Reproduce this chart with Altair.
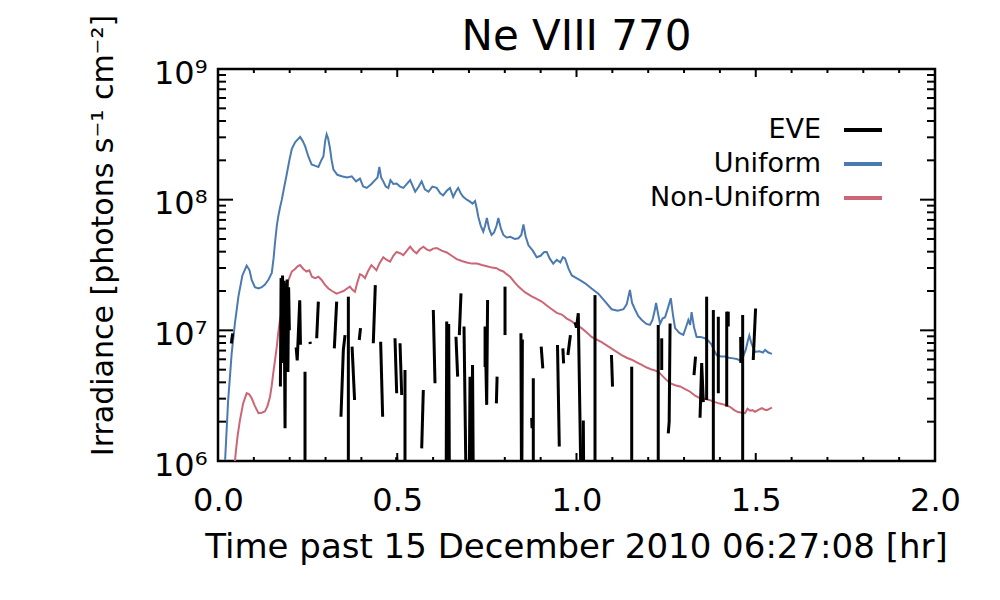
import altair as alt
import pandas as pd

FONT = "DejaVu Sans"
W, H = 717, 392

series_names = ["EVE", "Uniform", "Non-Uniform"]
series_colors = ["#000000", "#4a7ab0", "#cc6677"]

chart_title = "Ne VIII 770"
x_title = "Time past 15 December 2010 06:27:08 [hr]"
y_title = "Irradiance [photons s\u207b\u00b9 cm\u207b\u00b2]"

xt_major = [0.0, 0.5, 1.0, 1.5, 2.0]
xt_minor = [0.1, 0.2, 0.3, 0.4, 0.6, 0.7, 0.8, 0.9, 1.1, 1.2, 1.3, 1.4, 1.6, 1.7, 1.8, 1.9]
yt_major = [1e6, 1e7, 1e8, 1e9]
yt_minor = [2e6, 3e6, 4e6, 5e6, 6e6, 7e6, 8e6, 9e6,
            2e7, 3e7, 4e7, 5e7, 6e7, 7e7, 8e7, 9e7,
            2e8, 3e8, 4e8, 5e8, 6e8, 7e8, 8e8, 9e8]

# Uniform model (blue)
uni_t = [0.017, 0.028, 0.038, 0.047, 0.057, 0.068, 0.080, 0.088, 0.094, 0.103, 0.113, 0.122, 0.131, 0.141,
         0.150, 0.155, 0.159, 0.164, 0.168, 0.173, 0.178, 0.185, 0.192, 0.199, 0.206, 0.215, 0.222, 0.229,
         0.236, 0.243, 0.252, 0.261, 0.270, 0.280, 0.288, 0.294, 0.299, 0.303, 0.307, 0.312, 0.317, 0.322,
         0.333, 0.345, 0.360, 0.373, 0.385, 0.396, 0.405, 0.415, 0.428, 0.438, 0.445, 0.450, 0.455, 0.461,
         0.468, 0.475, 0.481, 0.489, 0.498, 0.508, 0.517, 0.527, 0.536, 0.550, 0.560, 0.568, 0.577, 0.587,
         0.598, 0.610, 0.620, 0.628, 0.638, 0.647, 0.656, 0.663, 0.670, 0.677, 0.684, 0.694, 0.703, 0.710,
         0.717, 0.722, 0.726, 0.733, 0.740, 0.745, 0.750, 0.756, 0.763, 0.770, 0.777, 0.782, 0.789, 0.796,
         0.805, 0.815, 0.828, 0.838, 0.846, 0.852, 0.858, 0.866, 0.878, 0.889, 0.900, 0.910, 0.917, 0.925,
         0.935, 0.945, 0.955, 0.962, 0.968, 0.978, 0.987, 1.000, 1.012, 1.024, 1.042, 1.061, 1.080, 1.098,
         1.115, 1.131, 1.140, 1.149, 1.155, 1.163, 1.172, 1.182, 1.195, 1.205, 1.212, 1.218, 1.222, 1.228,
         1.233, 1.240, 1.247, 1.255, 1.263, 1.269, 1.275, 1.287, 1.298, 1.306, 1.312, 1.317, 1.321, 1.328,
         1.335, 1.346, 1.358, 1.368, 1.377, 1.385, 1.391, 1.403, 1.414, 1.425, 1.437, 1.447, 1.456, 1.465,
         1.472, 1.478, 1.482, 1.488, 1.498, 1.510, 1.520, 1.526, 1.535, 1.545]
uni_v = [7.1e5, 2.82e6, 6.6e6, 1.12e7, 1.82e7, 2.63e7, 3.13e7, 2.88e7, 2.43e7, 2.14e7, 2.09e7, 2.14e7, 2.24e7, 2.45e7,
         2.75e7, 3.55e7, 4.68e7, 6.31e7, 7.41e7, 8.71e7, 1.00e8, 1.26e8, 1.58e8, 2.00e8, 2.45e8, 2.75e8, 2.88e8, 3.02e8,
         2.82e8, 2.57e8, 2.14e8, 1.86e8, 1.82e8, 1.78e8, 2.00e8, 2.14e8, 2.82e8, 3.16e8, 2.95e8, 2.51e8, 2.00e8, 1.70e8,
         1.55e8, 1.51e8, 1.48e8, 1.51e8, 1.38e8, 1.45e8, 1.26e8, 1.23e8, 1.32e8, 1.41e8, 1.48e8, 1.78e8, 1.48e8, 1.38e8,
         1.26e8, 1.23e8, 1.41e8, 1.32e8, 1.33e8, 1.26e8, 1.23e8, 1.32e8, 1.41e8, 1.15e8, 1.26e8, 1.38e8, 1.20e8, 1.15e8,
         1.26e8, 1.23e8, 1.12e8, 1.08e8, 1.17e8, 1.23e8, 1.05e8, 1.15e8, 1.23e8, 1.12e8, 1.05e8, 1.00e8, 9.66e7, 9.33e7,
         9.77e7, 8.51e7, 7.41e7, 6.31e7, 5.69e7, 6.31e7, 7.24e7, 6.03e7, 5.37e7, 5.62e7, 6.31e7, 7.24e7, 6.03e7, 5.37e7,
         5.13e7, 5.19e7, 5.01e7, 5.07e7, 5.37e7, 6.46e7, 5.25e7, 4.47e7, 4.07e7, 3.63e7, 3.72e7, 3.98e7, 3.98e7, 3.55e7,
         3.24e7, 3.47e7, 3.31e7, 3.63e7, 3.55e7, 2.95e7, 2.63e7, 2.51e7, 2.40e7, 2.29e7, 2.09e7, 1.91e7, 1.66e7, 1.45e7,
         1.41e7, 1.45e7, 1.58e7, 2.04e7, 1.62e7, 1.45e7, 1.29e7, 1.20e7, 1.12e7, 1.10e7, 1.20e7, 1.41e7, 1.62e7, 1.32e7,
         1.12e7, 1.23e7, 1.26e7, 1.48e7, 1.76e7, 1.32e7, 1.04e7, 9.55e6, 9.23e6, 1.07e7, 1.20e7, 1.10e7, 1.38e7, 1.05e7,
         8.91e6, 8.91e6, 8.71e6, 8.32e6, 7.76e6, 6.92e6, 6.46e6, 6.31e6, 6.31e6, 6.17e6, 6.10e6, 6.03e6, 5.89e6, 6.31e6,
         7.08e6, 8.32e6, 9.12e6, 7.94e6, 6.84e6, 6.92e6, 6.76e6, 7.08e6, 6.76e6, 6.61e6]

# Non-uniform model (red)
non_t = [0.044, 0.050, 0.055, 0.061, 0.070, 0.080, 0.087, 0.094, 0.103, 0.113, 0.122, 0.131, 0.138, 0.145,
         0.150, 0.154, 0.159, 0.164, 0.168, 0.173, 0.180, 0.187, 0.196, 0.206, 0.215, 0.222, 0.229, 0.238,
         0.247, 0.255, 0.262, 0.271, 0.280, 0.289, 0.298, 0.308, 0.318, 0.331, 0.340, 0.350, 0.360, 0.368,
         0.375, 0.382, 0.389, 0.396, 0.403, 0.410, 0.418, 0.428, 0.435, 0.442, 0.450, 0.461, 0.470, 0.480,
         0.489, 0.498, 0.508, 0.517, 0.527, 0.536, 0.545, 0.554, 0.563, 0.573, 0.582, 0.591, 0.600, 0.610,
         0.624, 0.638, 0.652, 0.666, 0.680, 0.694, 0.708, 0.722, 0.736, 0.750, 0.764, 0.777, 0.787, 0.796,
         0.805, 0.815, 0.827, 0.838, 0.857, 0.875, 0.889, 0.903, 0.917, 0.931, 0.945, 0.959, 0.973, 0.987,
         1.000, 1.014, 1.028, 1.042, 1.056, 1.070, 1.084, 1.098, 1.112, 1.126, 1.140, 1.154, 1.168, 1.182,
         1.196, 1.210, 1.222, 1.233, 1.247, 1.261, 1.275, 1.289, 1.303, 1.317, 1.331, 1.345, 1.358, 1.372,
         1.386, 1.400, 1.414, 1.428, 1.440, 1.450, 1.462, 1.470, 1.477, 1.484, 1.491, 1.498, 1.506, 1.517,
         1.524, 1.531, 1.538, 1.545]
non_v = [7.94e5, 1.20e6, 1.58e6, 2.04e6, 2.75e6, 3.31e6, 3.24e6, 3.02e6, 2.63e6, 2.32e6, 2.34e6, 2.40e6, 2.63e6, 3.09e6,
         3.80e6, 4.68e6, 5.89e6, 7.50e6, 9.55e6, 1.20e7, 1.51e7, 1.91e7, 2.40e7, 2.82e7, 2.95e7, 3.09e7, 3.16e7, 2.95e7,
         2.82e7, 2.88e7, 2.57e7, 2.51e7, 2.57e7, 2.43e7, 2.24e7, 2.09e7, 2.00e7, 1.91e7, 1.95e7, 2.00e7, 2.09e7, 2.16e7,
         2.04e7, 1.97e7, 2.34e7, 2.69e7, 2.63e7, 2.51e7, 2.82e7, 3.16e7, 3.02e7, 2.88e7, 3.24e7, 3.63e7, 3.47e7, 3.35e7,
         3.72e7, 3.98e7, 3.89e7, 3.76e7, 4.07e7, 4.37e7, 4.07e7, 3.89e7, 4.17e7, 4.37e7, 4.17e7, 4.07e7, 4.22e7, 4.27e7,
         4.07e7, 3.94e7, 3.72e7, 3.51e7, 3.39e7, 3.31e7, 3.24e7, 3.24e7, 3.16e7, 3.09e7, 3.02e7, 2.99e7, 2.88e7, 2.82e7,
         2.69e7, 2.57e7, 2.34e7, 2.16e7, 1.95e7, 1.82e7, 1.74e7, 1.66e7, 1.55e7, 1.45e7, 1.36e7, 1.32e7, 1.23e7, 1.17e7,
         1.10e7, 1.04e7, 9.66e6, 8.91e6, 8.51e6, 8.13e6, 7.67e6, 7.24e6, 6.84e6, 6.46e6, 6.17e6, 5.96e6, 5.69e6, 5.43e6,
         5.19e6, 5.01e6, 4.90e6, 4.68e6, 4.27e6, 3.94e6, 3.80e6, 3.72e6, 3.55e6, 3.39e6, 3.16e6, 3.02e6, 2.99e6, 2.92e6,
         2.82e6, 2.75e6, 2.69e6, 2.60e6, 2.45e6, 2.37e6, 2.34e6, 2.32e6, 2.51e6, 2.43e6, 2.45e6, 2.38e6, 2.45e6, 2.54e6,
         2.48e6, 2.45e6, 2.51e6, 2.56e6]

# EVE measurements (broken segments; None marks a data gap)
eve_t = [0.041, 0.037, None,
         0.174, 0.176, 0.178, 0.180, 0.182, 0.184, 0.187, 0.189, 0.191, 0.193, 0.195, 0.197, 0.199, None,
         0.218, 0.221, 0.228, 0.230, None,
         0.2427, 0.2427, None, 0.2566, 0.2575, None, 0.2799, 0.2753, None, 0.331, 0.3245, None,
         0.3543, 0.3496, 0.343, None, 0.3636, 0.3636, None, 0.374, 0.381, None, 0.3975, 0.394, None,
         0.4388, 0.4332, None, 0.4537, 0.4593, None, 0.4937, 0.4984, None, 0.5077, 0.5124, None,
         0.5216, 0.5216, None, 0.4984, 0.4984, None, 0.5727, 0.5682, None, 0.6006, 0.6053, None,
         0.636, 0.638, 0.641, 0.6435, 0.646, None, 0.6638, 0.6685, None, 0.6778, 0.6731, None,
         0.6862, 0.6936, None, 0.700, 0.703, 0.707, 0.710, 0.713, None,
         0.745, 0.745, 0.752, 0.7495, None, 0.7785, 0.7765, None, 0.8006, 0.8006, None,
         0.845, 0.849, 0.847, None, 0.8795, 0.8795, None, 0.875, 0.876, None, 0.9015, 0.906, None,
         0.947, 0.952, None, 0.962, 0.964, None, 0.983, 0.976, None, 0.996, 1.000, 1.005, 1.0145, None,
         1.017, 1.019, 1.021, None, 1.0516, 1.0516, None, 1.0975, 1.1005, None, 1.154, 1.154, None,
         1.228, 1.228, None, 1.2377, 1.2377, None, 1.261, 1.256, 1.2585, None, 1.332, 1.3277, None,
         1.3446, 1.3492, 1.3538, None, 1.363, 1.363, None, 1.3817, 1.3817, None, 1.3956, 1.3956, None,
         1.419, 1.419, None, 1.4233, 1.4233, None, 1.458, 1.4585, None, 1.4635, 1.4635, None,
         1.4995, 1.493]
eve_v = [9.48e6, 7.94e6, None,
         3.72e6, 2.51e7, 5.62e6, 2.63e7, 7.94e6, 2.40e7, 1.78e6, 2.29e7, 7.08e6, 2.45e7, 4.79e6, 2.14e7, 1.00e7, None,
         7.41e6, 5.89e6, 1.70e7, 7.76e6, None,
         4.82e6, 3.0e5, None, 8.18e6, 7.85e6, None, 1.66e7, 8.69e6, None, 1.66e7, 7.28e6, None,
         9.20e6, 7.06e6, 2.18e6, None, 1.81e7, 3.0e5, None, 7.50e6, 2.93e6, None, 1.04e7, 8.43e6, None,
         2.22e7, 7.96e6, None, 8.18e6, 2.18e6, None, 8.69e6, 3.30e6, None, 7.96e6, 3.20e6, None,
         4.97e6, 3.0e5, None, 1.07e6, 3.0e5, None, 3.49e6, 1.25e6, None, 1.43e7, 3.94e6, None,
         3.0e5, 1.17e7, 3.98e6, 1.12e7, 3.0e5, None, 8.93e6, 4.42e6, None, 1.92e7, 9.20e6, None,
         1.07e7, 3.0e5, None, 3.0e5, 4.42e6, 3.0e5, 5.43e6, 3.0e5, None,
         5.25e6, 1.07e7, 1.71e7, 2.69e6, None, 4.42e6, 2.76e6, None, 2.16e7, 9.20e6, None,
         9.48e6, 8.51e6, 3.0e5, None, 4.30e6, 3.0e5, None, 2.14e6, 1.78e6, None, 7.50e6, 5.12e6, None,
         7.73e6, 1.29e6, None, 7.28e6, 5.58e6, None, 9.20e6, 6.47e6, None, 1.15e7, 1.05e7, 1.35e7, 3.0e5, None,
         3.0e5, 2.04e6, 3.0e5, None, 1.86e7, 3.0e5, None, 6.47e6, 3.71e6, None, 5.27e6, 3.0e5, None,
         1.10e7, 3.0e5, None, 8.69e6, 4.97e6, None, 1.13e7, 1.63e6, 2.00e6, None, 6.28e6, 4.55e6, None,
         2.14e6, 5.62e6, 2.82e6, None, 1.81e7, 2.93e6, None, 1.43e7, 3.0e5, None, 1.27e7, 3.30e6, None,
         1.39e7, 2.61e6, None, 1.39e7, 1.07e7, None, 8.91e6, 5.62e6, None, 1.31e7, 3.0e5, None,
         1.47e7, 5.93e6]


def segment_frame(name, ts, vs):
    rows, seg = [], 0
    for t, v in zip(ts, vs):
        if t is None:
            seg += 1
            continue
        rows.append({"series": name, "t": t, "v": v, "seg": seg})
    return pd.DataFrame(rows)


df_uni = pd.DataFrame({"series": series_names[1], "t": uni_t, "v": uni_v})
df_non = pd.DataFrame({"series": series_names[2], "t": non_t, "v": non_v})
df_eve = segment_frame(series_names[0], eve_t, eve_v)

xs = alt.Scale(domain=[0, 2], nice=False, zero=False)
ys = alt.Scale(type="log", domain=[1e6, 1e9], nice=False)
cs = alt.Scale(domain=series_names, range=series_colors)

legend = alt.Legend(title=None, orient="none", legendX=624, legendY=40, symbolType="stroke",
                    symbolSize=38 * 38, symbolStrokeWidth=4, labelAlign="right", labelOffset={"expr": "-63"},
                    labelFontSize=27, labelFont=FONT, labelColor="black", rowPadding=0, padding=0,
                    labelLimit=400)

x_axis = alt.Axis(values=xt_major, format=".1f", domain=False, ticks=False, tickSize=0, grid=False,
                  labelFontSize=32, labelPadding=24, labelFlush=False, labelOverlap=False,
                  titleFontSize=34, titleX=358, titleY=96, titleBaseline="alphabetic", titleAlign="center",
                  titleFontWeight="normal")
y_axis = alt.Axis(values=yt_major,
                  labelExpr="'10' + ['\u2070','\u00b9','\u00b2','\u00b3','\u2074','\u2075','\u2076','\u2077','\u2078','\u2079'][round(log(datum.value)/LN10)]",
                  domain=False, ticks=False, tickSize=0, grid=False, labelFontSize=32, labelPadding=11,
                  labelOverlap=False, labelFlush=False, labelBaseline="middle", labelOffset=4,
                  titleFontSize=30, titleAngle=270, titleX=-115, titleY=166, titleBaseline="middle",
                  titleAlign="center", titleFontWeight="normal")

X = alt.X("t:Q", scale=xs, axis=x_axis, title=x_title)
Y = alt.Y("v:Q", scale=ys, axis=y_axis, title=y_title)
C = alt.Color("series:N", scale=cs, legend=legend)

uni = alt.Chart(df_uni).mark_line(strokeWidth=2, clip=True).encode(x=X, y=Y, color=C)
non = alt.Chart(df_non).mark_line(strokeWidth=2, clip=True).encode(x=X, y=Y, color=C)
eve = alt.Chart(df_eve).mark_line(strokeWidth=3, clip=True).encode(x=X, y=Y, color=C, detail="seg:N")

df_xmaj = pd.DataFrame({"t": xt_major})
df_xmin = pd.DataFrame({"t": xt_minor})
df_ymaj = pd.DataFrame({"v": yt_major})
df_ymin = pd.DataFrame({"v": yt_minor})

def xticks(df, length):
    base = alt.Chart(df).mark_rule(color="black", strokeWidth=2)
    bottom = base.encode(x=X, y=alt.value(H), y2=alt.value(H - length))
    top = base.encode(x=X, y=alt.value(0), y2=alt.value(length))
    return [bottom, top]

def yticks(df, length):
    base = alt.Chart(df).mark_rule(color="black", strokeWidth=2)
    left = base.encode(y=Y, x=alt.value(0), x2=alt.value(length))
    right = base.encode(y=Y, x=alt.value(W), x2=alt.value(W - length))
    return [left, right]

tick_layers = xticks(df_xmaj, 8) + xticks(df_xmin, 4) + yticks(df_ymaj, 15) + yticks(df_ymin, 8)

# chart title drawn as a text mark centred above the plot frame
title_layer = alt.Chart(pd.DataFrame({"label": [chart_title]})).mark_text(
    font=FONT, fontSize=42, color="black", align="center", baseline="alphabetic", clip=False
).encode(text="label:N", x=alt.value(W / 2), y=alt.value(-19))

chart = alt.layer(uni, non, eve, *tick_layers, title_layer).properties(
    width=W, height=H,
    autosize=alt.AutoSizeParams(type="none"),
    padding={"left": 210, "top": 61, "right": 57, "bottom": 123},
).configure_view(stroke="black", strokeWidth=2.5).configure_axis(
    labelFont=FONT, titleFont=FONT, labelColor="black", titleColor="black"
).configure_legend(labelFont=FONT, labelColor="black")

chart.save("out.html", embed_options={"renderer": "svg", "actions": False})
